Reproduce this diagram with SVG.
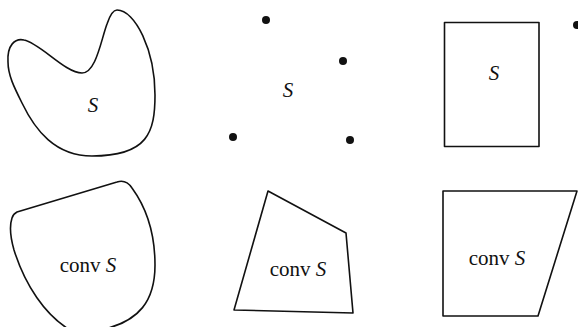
<svg xmlns="http://www.w3.org/2000/svg" width="578" height="327" viewBox="0 0 578 327">
<style>
.sh{fill:none;stroke:#111;stroke-width:1.6;stroke-linejoin:round}
.dot{fill:#111}
text{font-family:"Liberation Serif","Times New Roman",serif;font-size:21px;fill:#111;text-anchor:middle}
.i{font-style:italic}
</style>
<rect width="578" height="327" fill="#fff"/>
<g id="set-blob">
<path class="sh" d="M8,62 C7,45 15,38 24,40 C40,43 65,73 82,73 C96,73 101,40 107,24 C110,15 113,10 117,10 C135,10 155,50 155,95 C155,132 148,156 92,156 C55,156 35,130 22,103 C14,87 8,75 8,62 Z"/>
<text x="93" y="112" class="i">S</text>
</g>
<g id="set-points">
<circle class="dot" cx="266" cy="20" r="4"/>
<circle class="dot" cx="343" cy="61" r="4"/>
<circle class="dot" cx="233" cy="137" r="4"/>
<circle class="dot" cx="350" cy="140" r="4"/>
<text x="288" y="97" class="i">S</text>
</g>
<g id="set-rect">
<rect class="sh" x="444.5" y="22.5" width="94.5" height="124"/>
<circle class="dot" cx="577" cy="25" r="4"/>
<text x="494" y="80" class="i">S</text>
</g>
<g id="conv-blob">
<path class="sh" d="M17,212 L117,182 C123,180 128,182 132,188 C148,210 155,235 155,265 C155,300 140,322 100,330 L70,330 C45,315 25,285 14,250 C10,236 10,224 12,218 C13,215 15,213 17,212 Z"/>
<text x="88" y="272">conv <tspan class="i">S</tspan></text>
</g>
<g id="conv-points">
<path class="sh" d="M268,191 L346,233 L353,313 L234,310 Z"/>
<text x="298" y="276">conv <tspan class="i">S</tspan></text>
</g>
<g id="conv-rect">
<path class="sh" d="M443,191 L577,191 L538,316 L443,316 Z"/>
<text x="497" y="265">conv <tspan class="i">S</tspan></text>
</g>
</svg>
